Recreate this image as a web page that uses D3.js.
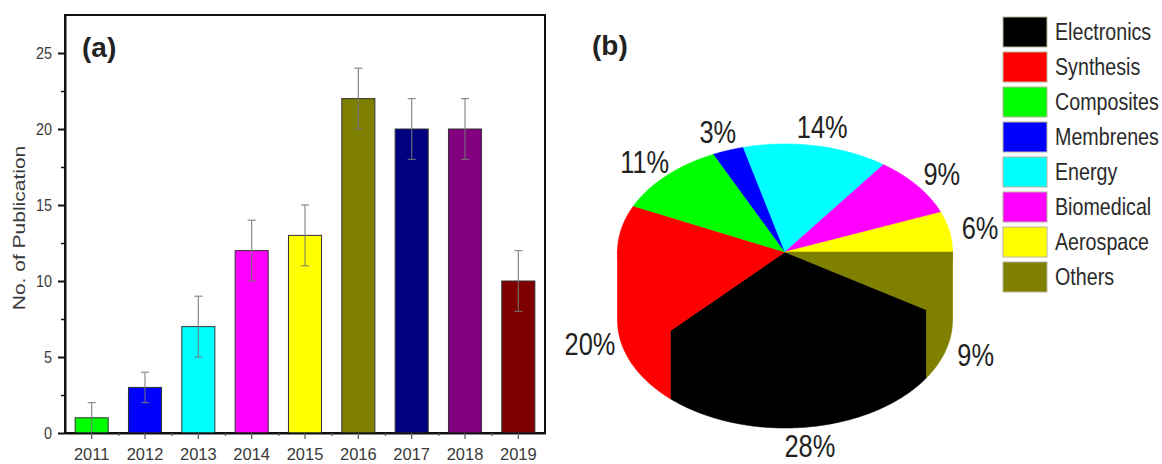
<!DOCTYPE html>
<html>
<head>
<meta charset="utf-8">
<script src="https://cdn.jsdelivr.net/npm/d3@7"></script>
<style>
  body { margin: 0; background: #fff; }
  svg { display: block; font-family: "Liberation Sans", Arial, sans-serif; }
</style>
</head>
<body>
<svg id="chart" width="1162" height="464"></svg>
<script>
// ---- Panel (a): publications per year ----
const years = ["2011", "2012", "2013", "2014", "2015", "2016", "2017", "2018", "2019"];
const publications = [1, 3, 7, 12, 13, 22, 20, 20, 10];
const pubErrors = [1, 1, 2, 2, 2, 2, 2, 2, 2];
const barColors = ["#00ff00", "#0000ff", "#00ffff", "#ff00ff", "#ffff00", "#808000", "#000080", "#800080", "#800000"];
const yTicks = [0, 5, 10, 15, 20, 25];
const yMinorTicks = [2.5, 7.5, 12.5, 17.5, 22.5];

// ---- Panel (b): application fields ----
const fields = ["Electronics", "Synthesis", "Composites", "Membrenes", "Energy", "Biomedical", "Aerospace", "Others"];
const shares = [28, 20, 11, 3, 14, 9, 6, 9];
const fieldColors = ["#000000", "#ff0000", "#00ff00", "#0000ff", "#00ffff", "#ff00ff", "#ffff00", "#808000"];

const squeeze = 0.82;   // narrow type
const textColor = "#2a2a2a";
const svg = d3.select("#chart");

function label(g, str, px, py, size, opts = {}) {
  return g.append("text")
    .attr("transform", `translate(${px},${py}) scale(${opts.sx ?? squeeze},1)`)
    .attr("font-size", size)
    .attr("font-weight", opts.weight || "normal")
    .attr("text-anchor", opts.anchor || "start")
    .attr("dy", opts.dy || null)
    .attr("fill", opts.fill || textColor)
    .text(str);
}

// ================= Bar chart =================
const plot = { left: 65, right: 545, top: 15, bottom: 433 };
const x = d3.scaleBand().domain(years).range([plot.left, plot.right])
  .paddingInner(0.38).paddingOuter(0.19);
const y = d3.scaleLinear().domain([0, 27.5]).range([plot.bottom, plot.top]);
const center = d => x(d) + x.bandwidth() / 2;

const gA = svg.append("g");

gA.append("rect")
  .attr("x", plot.left).attr("y", plot.top)
  .attr("width", plot.right - plot.left).attr("height", plot.bottom - plot.top)
  .attr("fill", "none").attr("stroke", "#111").attr("stroke-width", 2);

const barData = years.map((yr, i) => ({ yr, v: publications[i], e: pubErrors[i], c: barColors[i] }));

gA.append("g").selectAll("rect").data(barData).join("rect")
  .attr("x", d => x(d.yr)).attr("y", d => y(d.v))
  .attr("width", x.bandwidth()).attr("height", d => y(0) - y(d.v))
  .attr("fill", d => d.c).attr("stroke", "#333").attr("stroke-width", 1);

// error bars
const eg = gA.append("g").attr("stroke", "#777").attr("stroke-width", 1.2).attr("opacity", 0.85)
  .selectAll("g").data(barData).join("g");
eg.append("line")
  .attr("x1", d => center(d.yr)).attr("x2", d => center(d.yr))
  .attr("y1", d => y(d.v - d.e)).attr("y2", d => y(d.v + d.e));
eg.append("line")
  .attr("x1", d => center(d.yr) - 4).attr("x2", d => center(d.yr) + 4)
  .attr("y1", d => y(d.v + d.e)).attr("y2", d => y(d.v + d.e));
eg.append("line")
  .attr("x1", d => center(d.yr) - 4).attr("x2", d => center(d.yr) + 4)
  .attr("y1", d => y(d.v - d.e)).attr("y2", d => y(d.v - d.e));

// y axis
const yAxis = gA.append("g").attr("transform", `translate(${plot.left},0)`)
  .call(d3.axisLeft(y).tickValues(yTicks).tickSize(7).tickSizeOuter(0).tickPadding(6));
yAxis.attr("font-family", null).attr("font-size", null);
yAxis.select(".domain").attr("stroke", "#111").attr("stroke-width", 2);
yAxis.selectAll(".tick line").attr("stroke", "#111").attr("stroke-width", 2);
yAxis.selectAll(".tick text")
  .attr("font-size", 16).attr("fill", "#3a3a3a")
  .attr("x", -13 / 0.9).attr("transform", "scale(0.9,1)");

gA.append("g").attr("transform", `translate(${plot.left},0)`)
  .call(d3.axisLeft(y).tickValues(yMinorTicks).tickSize(4).tickFormat(""))
  .call(g => g.select(".domain").remove())
  .selectAll("line").attr("stroke", "#111").attr("stroke-width", 1.5);

// x axis
const xAxis = gA.append("g").attr("transform", `translate(0,${plot.bottom})`)
  .call(d3.axisBottom(x).tickSize(6).tickSizeOuter(0).tickPadding(9));
xAxis.attr("font-family", null).attr("font-size", null);
xAxis.select(".domain").attr("stroke", "#111").attr("stroke-width", 2);
xAxis.selectAll(".tick line").attr("stroke", "#555").attr("stroke-width", 1.2);
xAxis.selectAll(".tick text")
  .attr("font-size", 17).attr("fill", "#3a3a3a")
  .attr("transform", "scale(0.97,1)");

// minor ticks between categories
const xIdx = d3.scaleLinear().domain([0, years.length - 1])
  .range([center(years[0]), center(years[years.length - 1])]);
gA.append("g").attr("transform", `translate(0,${plot.bottom})`)
  .call(d3.axisBottom(xIdx).tickValues(d3.range(0.5, years.length - 1, 1)).tickSize(3).tickFormat(""))
  .call(g => g.select(".domain").remove())
  .selectAll("line").attr("stroke", "#555").attr("stroke-width", 1.2);

// axis title
gA.append("text")
  .attr("transform", `translate(25,228) scale(${squeeze},1) rotate(-90)`)
  .attr("text-anchor", "middle").attr("font-size", 21).attr("fill", "#3a3a3a")
  .text("No. of Publication");

label(gA, "(a)", 82, 57, 28, { weight: "bold", sx: 1, fill: "#222" });

// ================= 3D pie =================
const gB = svg.append("g");
label(gB, "(b)", 592, 55, 28, { weight: "bold", sx: 1, fill: "#222" });

const P = { cx: 785, cy: 252, rx: 167.5, ry: 108, depth: 68 };
const total = d3.sum(shares);
const rot = 2 * Math.PI * shares[shares.length - 1] / total;   // last slice closes at 3 o'clock
const slices = d3.pie().sort(null).startAngle(rot).endAngle(rot + 2 * Math.PI)(shares)
  .map((s, i) => ({ ...s, name: fields[i], color: fieldColors[i] }));

const pt = (t, dz = 0) => [P.cx + P.rx * Math.cos(t), P.cy + P.ry * Math.sin(t) + dz];
const samples = (a, b) => {
  const n = Math.max(2, Math.ceil(Math.abs(b - a) / 0.01));
  return d3.range(n + 1).map(k => a + (b - a) * k / n);
};
const line = d3.line();

// side walls (front half only); the upper rim is lifted a little so the
// top faces drawn afterwards overlap it and no seam shows
const sideG = gB.append("g");
slices.forEach(s => {
  [0, 2 * Math.PI].forEach(off => {
    const a = Math.max(s.startAngle, off), b = Math.min(s.endAngle, off + Math.PI);
    if (b <= a) return;
    const top = samples(a, b).map(t => pt(t, -2));
    const bottom = samples(b, a).map(t => pt(t, P.depth));
    sideG.append("path").attr("d", line(top.concat(bottom)) + "Z")
      .attr("fill", s.color).attr("stroke", s.color).attr("stroke-width", 0.6);
  });
});

// top faces
gB.append("g").selectAll("path").data(slices).join("path")
  .attr("d", s => line([[P.cx, P.cy]].concat(samples(s.startAngle, s.endAngle).map(t => pt(t)))) + "Z")
  .attr("fill", s => s.color).attr("stroke", s => s.color).attr("stroke-width", 0.6);

// percentage labels
gB.append("g").selectAll("text").data(slices).join("text")
  .attr("transform", s => {
    const m = (s.startAngle + s.endAngle) / 2;
    const lx = P.cx + (P.rx + 31) * Math.cos(m);
    const ly = P.cy + (P.ry + 19) * Math.sin(m) + (Math.sin(m) > 0 ? P.depth : 0);
    return `translate(${lx},${ly}) scale(${squeeze},1)`;
  })
  .attr("text-anchor", "middle").attr("dy", "0.35em")
  .attr("font-size", 31).attr("fill", "#222")
  .text(s => `${Math.round(s.value / total * 100)}%`);

// legend
const lg = gB.append("g").selectAll("g").data(slices).join("g")
  .attr("transform", (s, i) => `translate(1003,${17 + i * 35})`);
lg.append("rect").attr("width", 44).attr("height", 30)
  .attr("fill", s => s.color).attr("stroke", "#b8b49a").attr("stroke-width", 1);
lg.append("text")
  .attr("transform", `translate(52,23) scale(${squeeze},1)`)
  .attr("font-size", 24).attr("fill", "#2a2a2a")
  .text(s => s.name);
</script>
</body>
</html>
